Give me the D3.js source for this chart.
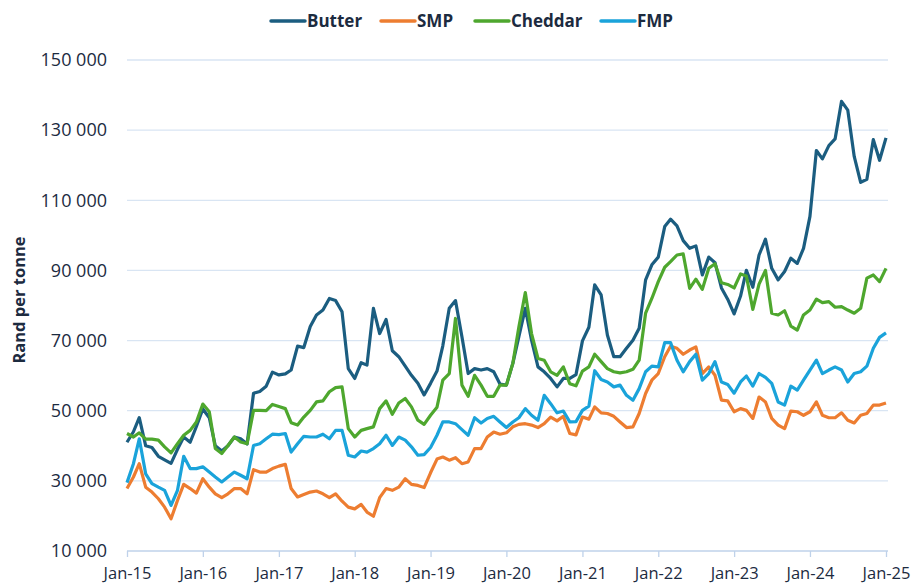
<!DOCTYPE html>
<html>
<head>
<meta charset="utf-8">
<script src="https://cdn.jsdelivr.net/npm/d3@7"></script>
<style>
  body { margin: 0; background: #fff; }
  text { font-family: "Open Sans", sans-serif; fill: #1c2b3f; }
</style>
</head>
<body>
<svg id="chart" width="916" height="586"></svg>
<script>
// monthly prices, Jan-15 .. Jan-25 (rand per tonne)
const seriesNames = ["Butter", "SMP", "Cheddar", "FMP"];
const seriesColors = ["#1b5d80", "#ed7d31", "#4ea72e", "#1aa3da"];

const butter = [
  41000, 44000, 48000, 40000, 39500, 37000, 36000, 35000, 39000, 42500, 41000, 45500,
  50500, 48000, 40000, 38500, 40000, 42500, 42000, 40500, 55000, 55500, 57000, 61000,
  60200, 60500, 61600, 68400, 68000, 74000, 77300, 78700, 82000, 81400, 78200, 62000,
  59200, 63700, 63000, 79200, 72000, 76000, 67100, 65400, 62700, 60100, 57800, 54500,
  57800, 61300, 68500, 79200, 81400, 71100, 60600, 62000, 61600, 62000, 61100, 57600,
  57300, 63500, 71100, 79200, 70100, 62500, 61100, 59200, 56800, 59200, 59200, 60300,
  69900, 73800, 85900, 83000, 71600, 65400, 65400, 67800, 70100, 73500, 87300, 91600,
  93800, 102500, 104600, 102700, 98500, 96300, 97000, 88700, 93800, 92200, 85000, 81800,
  77600, 82700, 90000, 85200, 94400, 98900, 90600, 87300, 89700, 93500, 92000, 96300,
  105400, 124200, 121800, 125600, 127500, 138200, 135700, 122500, 115100, 116000, 127300, 121400,
  127800
];

const smp = [
  27800, 31100, 34900, 28200, 26800, 24900, 22500, 19200, 24400, 29000, 27800, 26500,
  30600, 28200, 26300, 25200, 26300, 27800, 27800, 26300, 33200, 32500, 32500, 33500,
  34200, 34700, 27800, 25400, 26100, 26800, 27100, 26300, 25200, 26300, 24200, 22500,
  22000, 23300, 21100, 19900, 25200, 27800, 27300, 28200, 30600, 29000, 28700, 28100,
  32300, 36200, 36800, 35900, 36600, 34900, 35400, 39200, 39200, 42500, 43900, 43300,
  43700, 45400, 46100, 46300, 45900, 45200, 46300, 48200, 47100, 48400, 43500, 43100,
  48200, 47600, 51100, 49400, 49200, 48400, 46800, 45200, 45400, 49200, 54900, 58700,
  60600, 65400, 68400, 67800, 66100, 67300, 68200, 60600, 62500, 60100, 53000, 52800,
  49700, 50600, 50100, 47800, 53900, 52500, 47800, 45900, 44900, 49900, 49700, 48700,
  49700, 52500, 48700, 48000, 48000, 49400, 47300, 46500, 48700, 49200, 51600, 51600,
  52200
];

const cheddar = [
  43500, 42500, 43700, 41900, 41900, 41600, 39700, 38000, 40600, 43000, 44400, 46800,
  51900, 49700, 39200, 37800, 40100, 42500, 41100, 40600, 50100, 50100, 50000, 51800,
  51200, 50600, 46600, 45900, 48200, 50100, 52500, 52800, 55400, 56600, 56800, 44900,
  42500, 44400, 44900, 45400, 50600, 52800, 49000, 52200, 53500, 51100, 47300, 46100,
  48700, 51000, 58700, 60600, 76300, 57300, 54100, 60100, 57300, 54100, 54100, 57300,
  57300, 63500, 73900, 83700, 72000, 64900, 64400, 61100, 60100, 62500, 57700, 57100,
  61300, 62500, 66100, 64000, 62000, 61100, 60800, 61100, 61800, 64400, 77800, 82000,
  86800, 90900, 92500, 94400, 94700, 84900, 87500, 84600, 90600, 91900, 86500, 86000,
  85000, 89000, 88400, 78900, 86100, 90000, 77800, 77300, 78500, 74100, 73000, 77300,
  78700, 81800, 80800, 81100, 79500, 79700, 78700, 77800, 79200, 87800, 88700, 86800,
  90600
];

const fmp = [
  29500, 34900, 42000, 32000, 29200, 28200, 27300, 23000, 27300, 37000, 33500, 33500,
  34000, 32500, 31100, 29700, 31100, 32500, 31600, 30600, 40100, 40600, 42000, 43300,
  43200, 43500, 38200, 40600, 42700, 42500, 42500, 43300, 42000, 44400, 44400, 37300,
  36800, 38500, 38200, 39200, 40600, 43000, 40100, 42500, 41600, 39700, 37300, 37500,
  39500, 43000, 46800, 46800, 46300, 44600, 43000, 48000, 46500, 47800, 48400, 46800,
  45200, 46800, 48000, 50600, 48700, 47300, 54400, 52000, 49400, 49900, 46800, 46900,
  50100, 51300, 61400, 58900, 58200, 56800, 57300, 54400, 53000, 56300, 61100, 62700,
  62500, 69400, 69400, 64400, 61100, 64000, 66100, 58700, 60600, 64000, 58200, 57500,
  55000, 58200, 59900, 57000, 60600, 59500, 57800, 52500, 51600, 57000, 55900, 58700,
  61600, 64400, 60600, 61600, 62500, 61600, 58200, 60600, 61100, 62700, 67800, 70900,
  72200
];

const yTicks = [10000, 30000, 50000, 70000, 90000, 110000, 130000, 150000];
const xTickLabels = ["Jan-15", "Jan-16", "Jan-17", "Jan-18", "Jan-19", "Jan-20",
                     "Jan-21", "Jan-22", "Jan-23", "Jan-24", "Jan-25"];

const months = d3.timeMonth.range(new Date(2015, 0, 1), new Date(2025, 0, 2));
const allSeries = [butter, smp, cheddar, fmp];

const size = {
    width: 916,
    height: 586,
    margin: { top: 60, right: 28, bottom: 35, left: 127 }
};
const svg = d3.select("#chart");

const xScale = d3.scaleTime()
    .domain([months[0], months[months.length - 1]])
    .range([size.margin.left, 886]);

const yScale = d3.scaleLinear()
    .domain([10000, 150000])
    .range([551, size.margin.top]);

const fmt = d3.formatLocale({ decimal: ".", thousands: " ", grouping: [3], currency: ["", ""] }).format(",");

// gridlines
svg.append("g")
    .selectAll("line")
    .data(yTicks.slice(1))
    .join("line")
    .attr("x1", size.margin.left)
    .attr("x2", size.width - size.margin.right)
    .attr("y1", d => yScale(d))
    .attr("y2", d => yScale(d))
    .attr("stroke", "#d9e5f3")
    .attr("stroke-width", 1.3);

// y axis labels
const yAxis = svg.append("g")
    .attr("transform", `translate(${size.margin.left}, 0)`)
    .call(d3.axisLeft(yScale).tickValues(yTicks).tickFormat(fmt).tickSize(0).tickPadding(20));
yAxis.select(".domain").remove();
yAxis.selectAll("text")
    .style("font-family", "'Open Sans', sans-serif")
    .style("font-size", "18px")
    .attr("fill", "#1c2b3f");

// x axis
const xTickDates = months.filter(d => d.getMonth() === 0);
const xAxis = svg.append("g")
    .attr("transform", `translate(0, ${yScale(10000)})`)
    .call(d3.axisBottom(xScale)
        .tickValues(xTickDates)
        .tickFormat((d, i) => xTickLabels[i])
        .tickSize(6)
        .tickSizeOuter(0)
        .tickPadding(10));
xAxis.select(".domain")
    .attr("d", `M${size.margin.left},0H${size.width - size.margin.right}`)
    .attr("stroke", "#bfd2ea")
    .attr("stroke-width", 1.3);
xAxis.selectAll(".tick line").attr("stroke", "#bfd2ea").attr("stroke-width", 1.3);
xAxis.selectAll("text")
    .style("font-family", "'Open Sans', sans-serif")
    .style("font-size", "16.5px")
    .attr("fill", "#1c2b3f");

// lines
const line = d3.line()
    .x((d, i) => xScale(months[i]))
    .y(d => yScale(d));

svg.append("g")
    .selectAll("path")
    .data(allSeries)
    .join("path")
    .attr("d", d => line(d))
    .attr("fill", "none")
    .attr("stroke", (d, i) => seriesColors[i])
    .attr("stroke-width", 3.2)
    .attr("stroke-linejoin", "round");

// y axis title
svg.append("text")
    .attr("transform", "rotate(-90)")
    .attr("x", -300)
    .attr("y", 25)
    .attr("text-anchor", "middle")
    .style("font-size", "16.5px")
    .style("font-weight", "bold")
    .text("Rand per tonne");

// legend
const legendX = [271, 381, 475, 601];
const legend = svg.append("g")
    .selectAll("g")
    .data(seriesNames)
    .join("g")
    .attr("transform", (d, i) => `translate(${legendX[i]}, 21)`);
legend.append("line")
    .attr("x1", 0).attr("x2", 34)
    .attr("stroke", (d, i) => seriesColors[i])
    .attr("stroke-width", 3.5)
    .attr("stroke-linecap", "round");
legend.append("text")
    .attr("x", 36)
    .attr("y", 6)
    .style("font-size", "17px")
    .style("font-weight", "bold")
    .text(d => d);
</script>
</body>
</html>
